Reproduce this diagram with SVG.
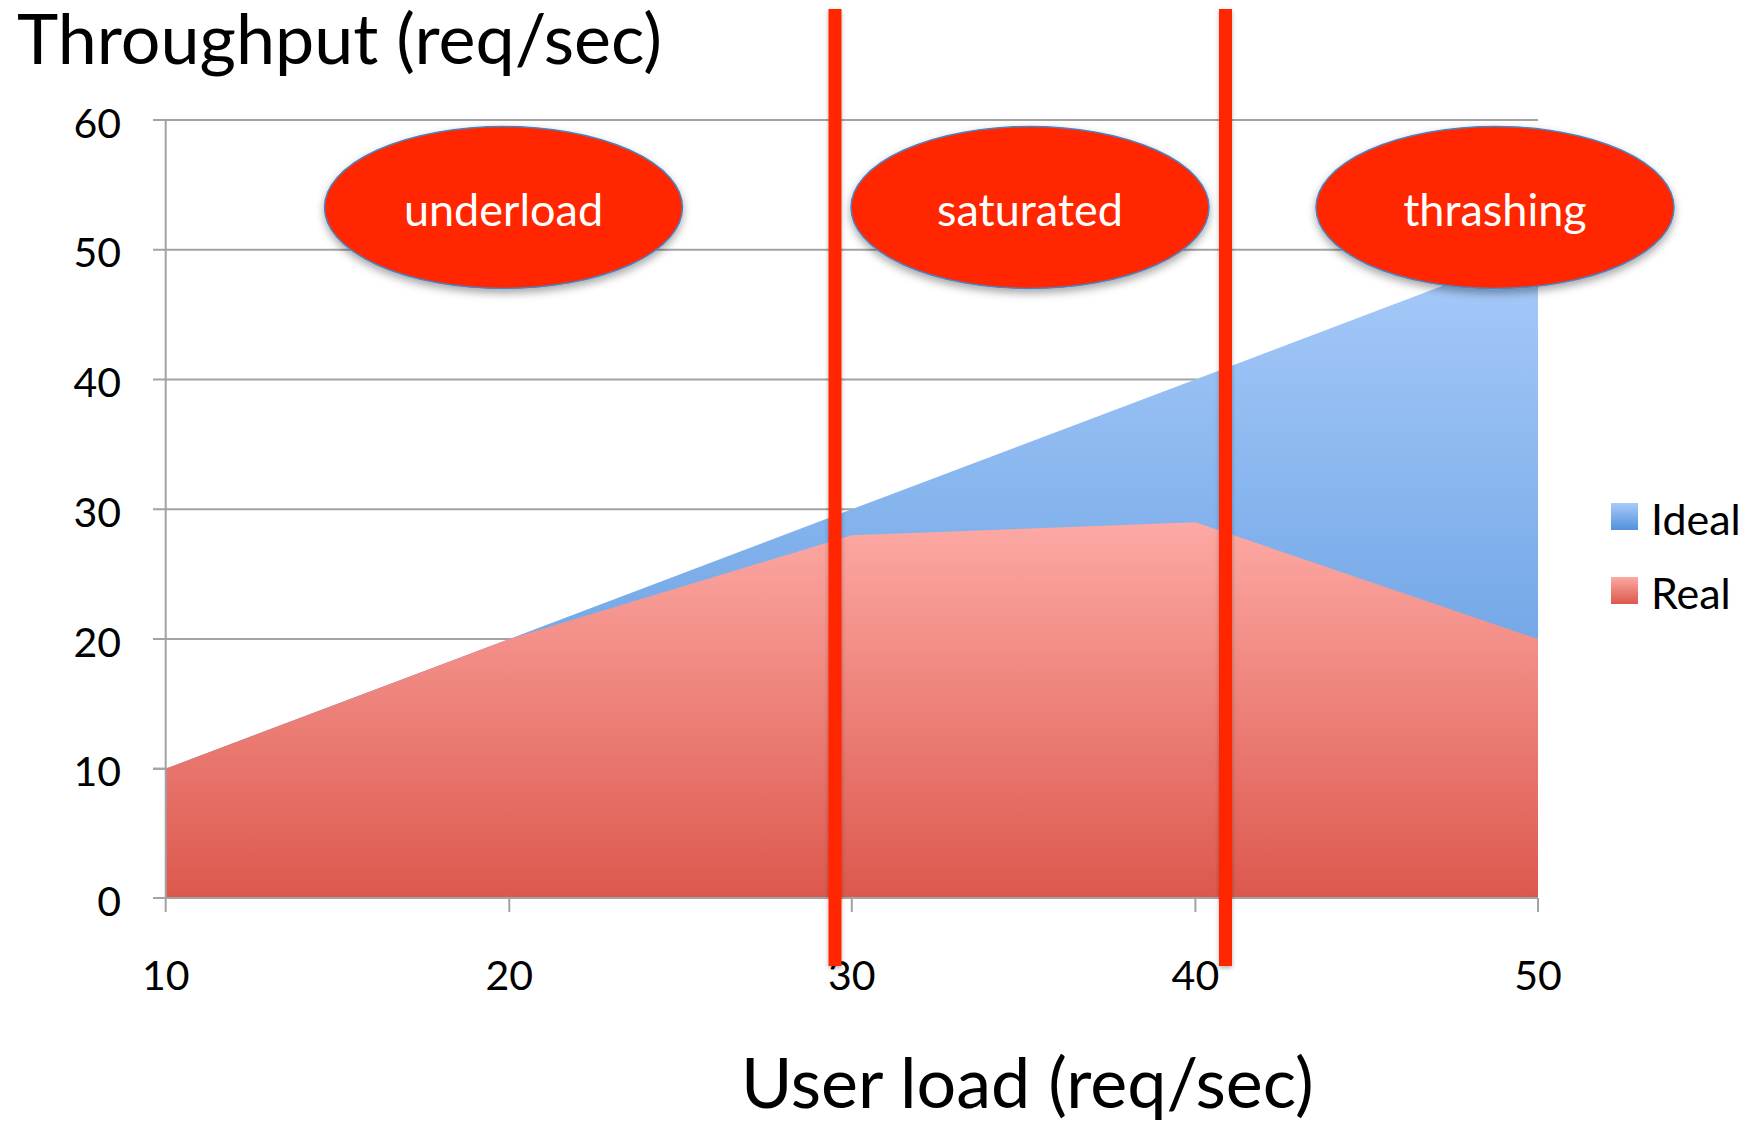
<svg xmlns="http://www.w3.org/2000/svg" width="1755" height="1126" viewBox="0 0 1755 1126">
<style>
.grid{stroke:#A3A3A3;stroke-width:2;fill:none}
.axis{stroke:#A3A3A3;stroke-width:2;fill:none}
.big{font-family:Lato,"Open Sans",sans-serif;font-size:70px;fill:#000}
.tick{font-family:Lato,"Open Sans",sans-serif;font-size:41px;fill:#000}
.leg{font-family:Lato,"Open Sans",sans-serif;font-size:43px;fill:#000}
.bub{fill:#FF2700;stroke:#4F81BD;stroke-width:1.5}
.bubt{font-family:Lato,"Open Sans",sans-serif;font-size:45px;fill:#fff;text-anchor:middle}
.vline{fill:#FF2700}
</style>
<defs>
<linearGradient id="gBlue" x1="0" y1="0" x2="0" y2="1">
<stop offset="0" stop-color="#A8CBFA"/>
<stop offset="1" stop-color="#5191DA"/>
</linearGradient>
<linearGradient id="gRed" x1="0" y1="0" x2="0" y2="1">
<stop offset="0" stop-color="#FDA9A4"/>
<stop offset="1" stop-color="#DC584D"/>
</linearGradient>
<filter id="sh" x="-20%" y="-20%" width="140%" height="150%">
<feDropShadow dx="0" dy="4" stdDeviation="4" flood-color="#000" flood-opacity="0.35"/>
</filter>
<filter id="shl" filterUnits="userSpaceOnUse" x="0" y="0" width="1755" height="1126">
<feDropShadow dx="0" dy="2" stdDeviation="2" flood-color="#000" flood-opacity="0.3"/>
</filter>
</defs>
<rect width="1755" height="1126" fill="#fff"/>

<text class="big" x="17" y="64">Throughput (req/sec)</text>
<text class="big" x="741" y="1108">User load (req/sec)</text>

<g id="gridlines">
<path class="grid" d="M153 120H1538M153 249.7H1538M153 379.5H1538M153 509.2H1538M153 639H1538M153 768.7H1538"/>
</g>

<g id="areas">
<polygon fill="url(#gBlue)" points="165.7,768.7 509.3,639 851.8,509.2 1195.4,379.5 1538,249.7 1538,898 165.7,898"/>
<polygon fill="url(#gRed)" points="165.7,768.7 509.3,639 851.8,535.2 1195.4,522.2 1538,639 1538,898 165.7,898"/>
</g>

<g id="axes">
<path class="axis" d="M165.7 120V912M153 898H1538M509.3 898V912M851.8 898V912M1195.4 898V912M1538 898V912M153 768.7H165.7M153 639H165.7"/>
</g>

<g id="ylabels" class="tick" text-anchor="end">
<text x="121" y="138">60</text>
<text x="121" y="267">50</text>
<text x="121" y="397">40</text>
<text x="121" y="527">30</text>
<text x="121" y="657">20</text>
<text x="121" y="786">10</text>
<text x="121" y="916">0</text>
</g>
<g id="xlabels" class="tick" text-anchor="middle">
<text x="165.7" y="990">10</text>
<text x="509.3" y="990">20</text>
<text x="851.8" y="990">30</text>
<text x="1195.4" y="990">40</text>
<text x="1538" y="990">50</text>
</g>

<g id="legend">
<rect x="1611" y="503" width="27" height="27" fill="url(#gBlue)"/>
<text class="leg" x="1651" y="535">Ideal</text>
<rect x="1611" y="577" width="27" height="27" fill="url(#gRed)"/>
<text class="leg" x="1651" y="609">Real</text>
</g>

<g id="connectors" filter="url(#shl)">
<rect class="vline" x="828.5" y="9" width="13" height="957"/>
<rect class="vline" x="1219" y="9" width="13" height="957"/>
</g>

<g id="underload">
<ellipse class="bub" filter="url(#sh)" cx="503.5" cy="207.5" rx="179" ry="81"/>
<text class="bubt" x="503.5" y="226">underload</text>
</g>
<g id="saturated">
<ellipse class="bub" filter="url(#sh)" cx="1030" cy="207.5" rx="179" ry="81"/>
<text class="bubt" x="1030" y="226">saturated</text>
</g>
<g id="thrashing">
<ellipse class="bub" filter="url(#sh)" cx="1495" cy="207.5" rx="179" ry="81"/>
<text class="bubt" x="1495" y="226">thrashing</text>
</g>
</svg>
